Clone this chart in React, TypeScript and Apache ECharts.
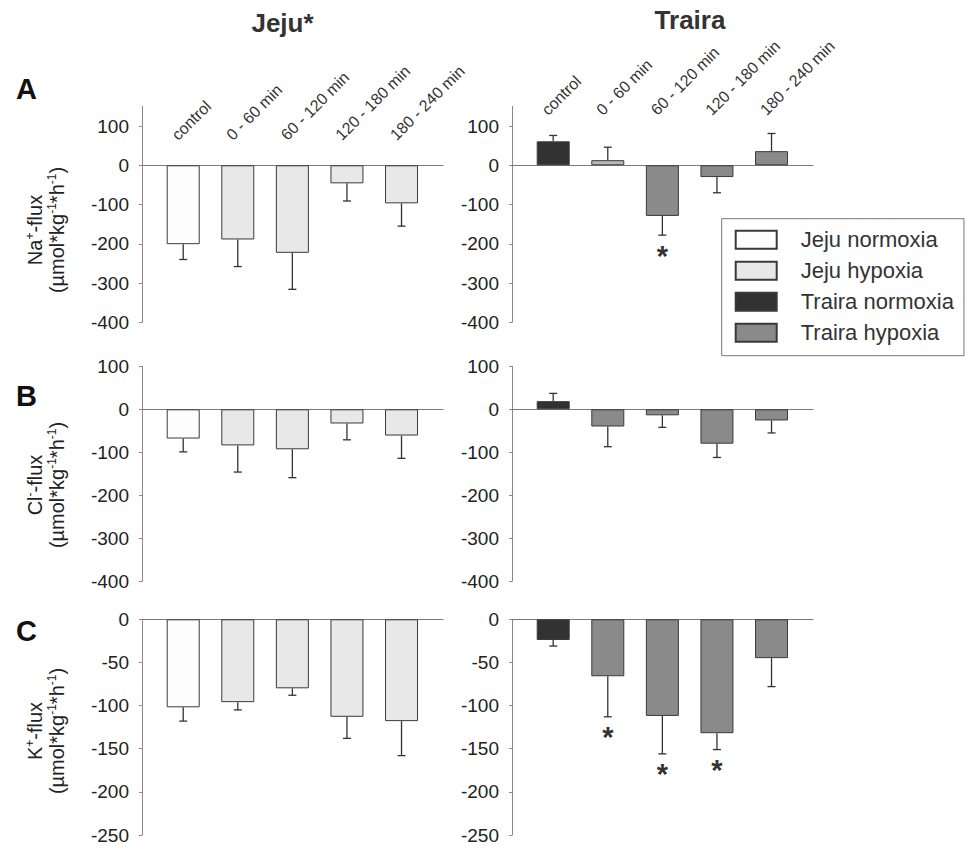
import React, { useEffect, useRef } from 'react';
import * as echarts from 'echarts';

const FONT = '"Liberation Sans", Arial, Helvetica, sans-serif';

const categories = ['control', '0 - 60 min', '60 - 120 min', '120 - 180 min', '180 - 240 min'];
const groups = ['Jeju normoxia', 'Jeju hypoxia', 'Traira normoxia', 'Traira hypoxia'];

// Na+ flux, mean and SD (µmol*kg-1*h-1)
const jejuNa = [-201, -189, -223, -46, -97];
const jejuNaSd = [39, 69, 93, 45, 58];
const trairaNa = [61, 13, -129, -30, 36];
const trairaNaSd = [15, 33, 49, 40, 45];
const trairaNaSig = [2];
const trairaNaLight = [1];

// Cl- flux
const jejuCl = [-68, -84, -93, -33, -61];
const jejuClSd = [31, 62, 66, 38, 53];
const trairaCl = [19, -40, -14, -80, -26];
const trairaClSd = [18, 47, 28, 32, 29];
const trairaClSig: number[] = [];

// K+ flux
const jejuK = [-102, -96, -80, -113, -118];
const jejuKSd = [16, 9, 8, 25, 40];
const trairaK = [-24, -66, -112, -132, -45];
const trairaKSd = [7, 47, 44, 19, 33];
const trairaKSig = [1, 2, 3];

const naTicks = [-400, -300, -200, -100, 0, 100];
const clTicks = [-400, -300, -200, -100, 0, 100];
const kTicks = [-250, -200, -150, -100, -50, 0];

const fills: Record<string, string> = {
  'Jeju normoxia': '#fdfdfd',
  'Jeju hypoxia': '#e8e8e8',
  'Traira normoxia': '#323232',
  'Traira hypoxia': '#8a8a8a',
};
const lightHypoxia = '#b8b8b8';
const edge = '#3a3a3a';
const axisGray = '#8a8a8a';

const X_MIN = -0.755;
const X_MAX = 4.76;
const LABEL_SHIFT = 0.16;

type Panel = {
  species: 'Jeju' | 'Traira';
  left: number;
  top: number;
  height: number;
  min: number;
  max: number;
  interval: number;
  ticks: number[];
  values: number[];
  sd: number[];
  sig: number[];
  light: number[];
  labelMargin: number | null;
};

const rowA = { top: 106.4, height: 215.9, min: -400, max: 150, interval: 100, ticks: naTicks };
const rowB = { top: 366.3, height: 215, min: -400, max: 100, interval: 100, ticks: clTicks };
const rowC = { top: 619.3, height: 215.7, min: -250, max: 0, interval: 50, ticks: kTicks };

// category labels sit inside the top panels, measured from the grid's top edge
const panels: Panel[] = [
  { species: 'Jeju', left: 142, ...rowA, values: jejuNa, sd: jejuNaSd, sig: [], light: [], labelMargin: -31 },
  { species: 'Traira', left: 512, ...rowA, values: trairaNa, sd: trairaNaSd, sig: trairaNaSig, light: trairaNaLight, labelMargin: -6 },
  { species: 'Jeju', left: 142, ...rowB, values: jejuCl, sd: jejuClSd, sig: [], light: [], labelMargin: null },
  { species: 'Traira', left: 512, ...rowB, values: trairaCl, sd: trairaClSd, sig: trairaClSig, light: [], labelMargin: null },
  { species: 'Jeju', left: 142, ...rowC, values: jejuK, sd: jejuKSd, sig: [], light: [], labelMargin: null },
  { species: 'Traira', left: 512, ...rowC, values: trairaK, sd: trairaKSd, sig: trairaKSig, light: [], labelMargin: null },
];

const errEnd = (v: number, s: number) => v + (v < 0 ? -s : s);

function yName(x: number, y: number, ion: string, charge: string) {
  const t = `20px ${FONT}`;
  const s = `12px ${FONT}`;
  return {
    type: 'text',
    x,
    y,
    rotation: Math.PI / 2,
    style: {
      text: `{t|${ion}}{s|${charge}}{t|-flux}\n{t|(µmol*kg}{s|-1}{t|*h}{s|-1}{t|)}`,
      fill: '#222',
      align: 'center',
      verticalAlign: 'middle',
      rich: {
        t: { font: t, fill: '#222', lineHeight: 22 },
        s: { font: s, fill: '#222', lineHeight: 22, verticalAlign: 'top' },
      },
    },
  };
}

function buildOption() {
  const grid: any[] = [];
  const xAxis: any[] = [];
  const yAxis: any[] = [];
  const series: any[] = [];

  panels.forEach((p, i) => {
    grid.push({
      left: p.left,
      top: p.top,
      width: 301,
      height: p.height,
      containLabel: false,
      outerBoundsMode: 'none',
    });
    xAxis.push({
      gridIndex: i,
      type: 'value',
      min: X_MIN,
      max: X_MAX,
      position: p.labelMargin != null ? 'top' : 'bottom',
      axisLine: { show: true, onZero: true, lineStyle: { color: '#7a7a7a', width: 1 } },
      axisTick: { show: false },
      splitLine: { show: false },
      axisLabel:
        p.labelMargin != null
          ? {
              show: true,
              customValues: categories.map((_, k) => k - LABEL_SHIFT),
              formatter: (v: number) => categories[Math.round(v)] ?? '',
              rotate: 45,
              margin: p.labelMargin,
              fontSize: 16,
              color: '#333',
              fontFamily: FONT,
            }
          : { show: false },
    });
    yAxis.push({
      gridIndex: i,
      type: 'value',
      min: p.min,
      max: p.max,
      interval: p.interval,
      axisLine: { show: true, onZero: false, lineStyle: { color: axisGray, width: 1 } },
      axisTick: { show: true, length: 3, customValues: p.ticks, lineStyle: { color: axisGray } },
      axisLabel: { customValues: p.ticks, margin: 13, fontSize: 19, color: '#222', fontFamily: FONT },
      splitLine: { show: false },
    });

    const normName = `${p.species} normoxia`;
    const hypName = `${p.species} hypoxia`;
    const barBase = {
      type: 'bar',
      xAxisIndex: i,
      yAxisIndex: i,
      barWidth: 33,
      barGap: '-100%',
      z: 3,
    };
    series.push({
      ...barBase,
      name: normName,
      itemStyle: { color: fills[normName], borderColor: edge, borderWidth: 1 },
      data: [[0, p.values[0]]],
    });
    series.push({
      ...barBase,
      name: hypName,
      itemStyle: { color: fills[hypName], borderColor: edge, borderWidth: 1 },
      data: p.values.slice(1).map((v, k) =>
        p.light.includes(k + 1)
          ? { value: [k + 1, v], itemStyle: { color: lightHypoxia } }
          : [k + 1, v]
      ),
    });
    // one-sided SD error bars
    series.push({
      type: 'custom',
      xAxisIndex: i,
      yAxisIndex: i,
      z: 4,
      silent: true,
      data: p.values.map((v, k) => [k, v, errEnd(v, p.sd[k])]),
      renderItem: (_params: any, api: any) => {
        const a = api.coord([api.value(0), api.value(1)]);
        const b = api.coord([api.value(0), api.value(2)]);
        const st = { stroke: '#333', lineWidth: 1.3 };
        return {
          type: 'group',
          children: [
            { type: 'line', shape: { x1: a[0], y1: a[1], x2: b[0], y2: b[1] }, style: st },
            { type: 'line', shape: { x1: b[0] - 4, y1: b[1], x2: b[0] + 4, y2: b[1] }, style: st },
          ],
        };
      },
    });
    if (p.sig.length) {
      series.push({
        type: 'custom',
        xAxisIndex: i,
        yAxisIndex: i,
        z: 4,
        silent: true,
        data: p.sig.map((k) => [k, errEnd(p.values[k], p.sd[k])]),
        renderItem: (_params: any, api: any) => {
          const c = api.coord([api.value(0), api.value(1)]);
          return {
            type: 'text',
            x: c[0],
            y: c[1] + 6,
            style: {
              text: '*',
              fill: '#333',
              font: `bold 29px ${FONT}`,
              align: 'center',
              verticalAlign: 'top',
            },
          };
        },
      });
    }
  });

  const graphic: any[] = [
    { type: 'text', x: 282.5, y: 23, style: { text: 'Jeju*', fill: '#333', font: `bold 26px ${FONT}`, align: 'center', verticalAlign: 'middle' } },
    { type: 'text', x: 690, y: 20, style: { text: 'Traira', fill: '#333', font: `bold 26px ${FONT}`, align: 'center', verticalAlign: 'middle' } },
    { type: 'text', x: 26.5, y: 89, style: { text: 'A', fill: '#111', font: `bold 29px ${FONT}`, align: 'center', verticalAlign: 'middle' } },
    { type: 'text', x: 26.5, y: 396, style: { text: 'B', fill: '#111', font: `bold 29px ${FONT}`, align: 'center', verticalAlign: 'middle' } },
    { type: 'text', x: 26.5, y: 631, style: { text: 'C', fill: '#111', font: `bold 29px ${FONT}`, align: 'center', verticalAlign: 'middle' } },
    yName(46, 230, 'Na', '+'),
    yName(46, 485, 'Cl', '-'),
    yName(46, 731, 'K', '+'),
  ];

  return {
    animation: false,
    backgroundColor: '#ffffff',
    textStyle: { fontFamily: FONT },
    grid,
    xAxis,
    yAxis,
    series,
    graphic,
    legend: {
      data: groups,
      orient: 'vertical',
      left: 721.7,
      top: 218.7,
      itemWidth: 41,
      itemHeight: 18,
      itemGap: 9,
      icon: 'rect',
      padding: [10, 10, 12, 13],
      borderColor: '#777',
      borderWidth: 1,
      selectedMode: false,
      textStyle: { fontSize: 22, color: '#333', fontFamily: FONT, padding: [0, 0, 0, 19] },
    },
  };
}

export default function App() {
  const ref = useRef<HTMLDivElement>(null);
  useEffect(() => {
    if (!ref.current) return;
    const chart = echarts.init(ref.current, undefined, { renderer: 'svg' });
    chart.setOption(buildOption() as any);
    return () => chart.dispose();
  }, []);
  return (
    <div
      ref={ref}
      style={{ position: 'absolute', left: 0, top: 0, width: 966, height: 849, background: '#fff' }}
    />
  );
}
